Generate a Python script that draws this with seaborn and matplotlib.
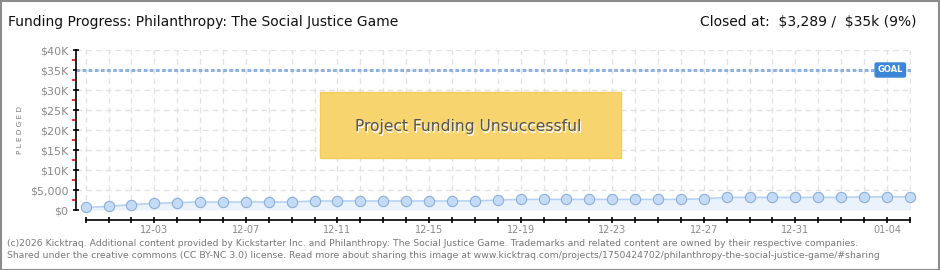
import matplotlib
matplotlib.use("Agg")
import matplotlib.pyplot as plt
from matplotlib.patches import Rectangle
from matplotlib.ticker import FixedLocator
import seaborn as sns
import pandas as pd
import numpy as np

# ---- data ----
dates = ["11-30", "12-01", "12-02", "12-03", "12-04", "12-05", "12-06", "12-07",
         "12-08", "12-09", "12-10", "12-11", "12-12", "12-13", "12-14", "12-15",
         "12-16", "12-17", "12-18", "12-19", "12-20", "12-21", "12-22", "12-23",
         "12-24", "12-25", "12-26", "12-27", "12-28", "12-29", "12-30", "12-31",
         "01-01", "01-02", "01-03", "01-04", "01-05"]
pledged = [650, 900, 1350, 1650, 1850, 2000, 2000, 2000, 2000, 2000, 2250, 2250,
           2250, 2250, 2250, 2250, 2250, 2250, 2500, 2650, 2650, 2650, 2650, 2650,
           2650, 2650, 2650, 2800, 3150, 3150, 3150, 3150, 3150, 3150, 3289, 3289, 3289]
goal = 35000
y_ticks = [0, 5000, 10000, 15000, 20000, 25000, 30000, 35000, 40000]
y_tick_labels = [r"\$0", r"\$5,000", r"\$10K", r"\$15K", r"\$20K", r"\$25K", r"\$30K", r"\$35K", r"\$40K"]
x_label_every = 4
x_label_start = 3
title = "Funding Progress: Philanthropy: The Social Justice Game"
closed_text = r"Closed at:  \$3,289 /  \$35k (9%)"
banner = "Project Funding Unsuccessful"
footer1 = ("(c)2026 Kicktraq. Additional content provided by Kickstarter Inc. and Philanthropy: The Social Justice Game. "
           "Trademarks and related content are owned by their respective companies.")
footer2 = ("Shared under the creative commons (CC BY-NC 3.0) license. Read more about sharing this image at "
           "www.kicktraq.com/projects/1750424702/philanthropy-the-social-justice-game/#sharing")

df = pd.DataFrame({"day": np.arange(len(dates)), "date": dates, "pledged": pledged})

sns.set_theme(style="white")
plt.rcParams["font.family"] = ["DejaVu Sans"]

W, H = 940, 270
fig = plt.figure(figsize=(W / 100, H / 100), dpi=100)
fig.patch.set_facecolor("white")

def px(x0, y0, x1, y1):
    return [x0 / W, 1 - y1 / H, (x1 - x0) / W, (y1 - y0) / H]

ax = fig.add_axes(px(76, 50, 911, 210))
ax.set_facecolor("white")

n = len(dates)
ax.set_xlim(-0.42, n - 1 + 0.05)
ax.set_ylim(0, 40000)

# grid
for d in range(n):
    ax.axvline(d, color="#e2e2e2", lw=1, ls=(0, (4, 3)), zorder=0)
for yv in y_ticks:
    ax.axhline(yv, color="#e2e2e2", lw=1, ls=(0, (4, 3)), zorder=0)

# goal line
ax.axhline(goal, color="#8db2e2", lw=2.2, ls=(0, (1.2, 0.8)), zorder=2)

# area + line + points
ax.fill_between(df["day"], df["pledged"], 0, color="#eaf2fc", zorder=1, lw=0)
sns.lineplot(data=df, x="day", y="pledged", ax=ax, color="#b5d2f2", lw=1.2, zorder=3)
sns.scatterplot(data=df, x="day", y="pledged", ax=ax, s=55, color="#c3dbf6",
                edgecolor="#8eaed6", linewidth=0.8, zorder=4, clip_on=False)
ax.set_xlabel("")
ax.set_ylabel("")

# spines
for s in ["top", "right"]:
    ax.spines[s].set_visible(False)
ax.spines["left"].set_color("black")
ax.spines["left"].set_linewidth(1.2)
ax.spines["left"].set_bounds(0, 40000)
ax.spines["bottom"].set_position(("outward", 7.5))
ax.spines["bottom"].set_bounds(0, n - 1)
ax.spines["bottom"].set_color("black")
ax.spines["bottom"].set_linewidth(1.2)

ax.yaxis.set_major_locator(FixedLocator(y_ticks))
ax.set_yticklabels(y_tick_labels)
ax.yaxis.set_minor_locator(FixedLocator([v + 2500 for v in y_ticks[:-1]]))
ax.tick_params(axis="y", which="major", direction="inout", length=5, width=1.2,
               color="black", labelsize=8, labelcolor="#8a8a8a", pad=3, left=True)
ax.tick_params(axis="y", which="minor", direction="out", length=3, width=1.2,
               color="#dd1111", left=True)

ax.xaxis.set_major_locator(FixedLocator(list(range(n))))
ax.set_xticklabels([d if (i - x_label_start) % x_label_every == 0 and i >= x_label_start else ""
                    for i, d in enumerate(dates)])
ax.tick_params(axis="x", which="major", direction="inout", length=5, width=1.2,
               color="black", labelsize=7, labelcolor="#8a8a8a", pad=1, bottom=True)

# GOAL tag
ax.text(n - 1 - 0.3, goal, "GOAL", ha="right", va="center", fontsize=6, color="white",
        fontweight="bold", zorder=6,
        bbox=dict(boxstyle="round,pad=0.3,rounding_size=0.2", fc="#3b86d6", ec="#3b86d6"))

# banner
fig.patches.append(Rectangle((320 / W, 1 - 158 / H), 301 / W, 66 / H,
                             transform=fig.transFigure, fc="#f7d46e", ec="#f2cc5f",
                             lw=1, zorder=5))
fig.text(469.5 / W, 1 - 128 / H, banner, ha="center", va="center", fontsize=11.2,
         color="white", zorder=6)
fig.text(468.5 / W, 1 - 127 / H, banner, ha="center", va="center", fontsize=11.2,
         color="#555555", zorder=7)

# texts
fig.text(8 / W, 1 - 22 / H, title, ha="left", va="center", fontsize=10, color="#111111")
fig.text(917 / W, 1 - 22 / H, closed_text, ha="right", va="center", fontsize=10, color="#111111")
fig.text(20 / W, 1 - 130 / H, "P L E D G E D", ha="center", va="center", rotation=90,
         fontsize=5.2, color="#777777")
fig.text(7 / W, 1 - 243 / H, footer1, ha="left", va="center", fontsize=6.65, color="#777777")
fig.text(7 / W, 1 - 256 / H, footer2, ha="left", va="center", fontsize=6.65, color="#777777")

# border
fig.patches.append(Rectangle((0.5 / W, 0.5 / H), (W - 1.5) / W, (H - 1.5) / H,
                             transform=fig.transFigure, fill=False, ec="#8c8c8c", lw=1.5))

fig.savefig("out.png", dpi=100, facecolor="white")
